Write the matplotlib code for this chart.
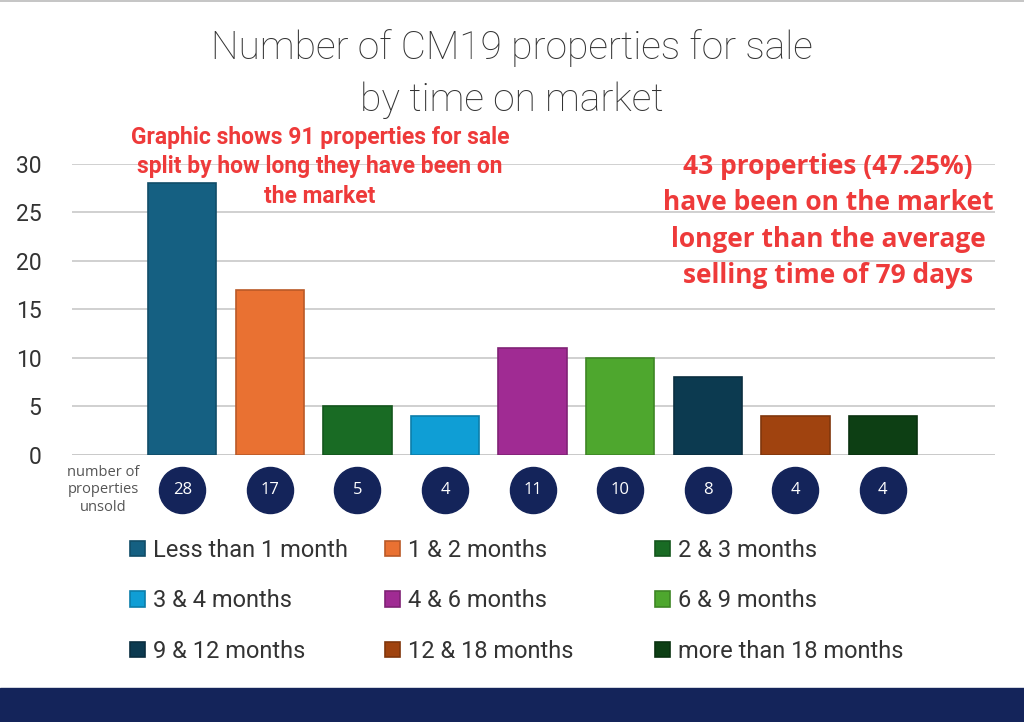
import matplotlib.pyplot as plt
from matplotlib.patches import Rectangle
from matplotlib.lines import Line2D

categories = ["Less than 1 month", "1 & 2 months", "2 & 3 months",
              "3 & 4 months", "4 & 6 months", "6 & 9 months",
              "9 & 12 months", "12 & 18 months", "more than 18 months"]
counts = [28, 17, 5, 4, 11, 10, 8, 4, 4]
colors = ["#156082", "#e97132", "#196b24", "#0f9ed5", "#a02b93",
          "#4ea72e", "#0c3a50", "#a0430f", "#0d3f14"]
yticks = [0, 5, 10, 15, 20, 25, 30]

navy = "#14245a"
red = "#ee3a3a"

fig = plt.figure(figsize=(10.24, 7.22), dpi=100)
ax = fig.add_axes([0.0703, 0.3698, 0.9014, 0.4031])

x = list(range(1, len(counts) + 1))
bars = ax.bar(x, counts, width=0.78, color=colors, linewidth=1.2, zorder=3)
for b in bars:
    b.set_edgecolor(tuple(c * 0.8 for c in b.get_facecolor()[:3]))

ax.set_xlim(-0.26, 10.28)
ax.set_ylim(0, 30)
ax.set_yticks(yticks)
ax.set_xticks([])
ax.grid(axis="y", color="#d0d0d0", linewidth=1.4, zorder=0)
ax.axhline(0, color="#c8c8c8", linewidth=1.8, zorder=2)
for s in ax.spines.values():
    s.set_visible(False)
ax.tick_params(axis="y", length=0, pad=22, labelsize=16.5, labelcolor="#333333")
for lab in ax.get_yticklabels():
    lab.set_fontfamily("Roboto")

# count badges under the bars
ax.scatter(x, [-3.6] * len(x), s=1100, color=navy, clip_on=False, zorder=4)
for xi, c in zip(x, counts):
    ax.text(xi, -3.6, str(c), ha="center", va="center", color="white",
            fontsize=12, family="Open Sans", zorder=5, clip_on=False)
ax.text(0.1, -3.6, "number of\nproperties\nunsold", ha="center", va="center",
        fontsize=10.5, color="#555555", family="Open Sans", linespacing=1.2)

# title
fig.text(0.5, 1 - 48 / 722, "Number of CM19 properties for sale", ha="center",
         va="center", fontsize=28, color="#333333", family="Roboto",
         fontweight="light")
fig.text(0.5, 1 - 100 / 722, "by time on market", ha="center", va="center",
         fontsize=28, color="#333333", family="Roboto", fontweight="light")

# notes
fig.text(320 / 1024, 1 - 167 / 722,
         "Graphic shows 91 properties for sale\nsplit by how long they have been on\nthe market",
         ha="center", va="center", fontsize=16.5, color=red, family="Roboto",
         fontweight="bold", linespacing=1.38)
fig.text(828 / 1024, 1 - 221 / 722,
         "43 properties (47.25%)\nhave been on the market\nlonger than the average\nselling time of 79 days",
         ha="center", va="center", fontsize=19, color=red, family="Open Sans",
         fontweight="bold", linespacing=1.45)

# legend, three columns
col_x = [130 / 1024, 385 / 1024, 655 / 1024]
for i in range(3):
    hs = [bars[j] for j in range(i, len(bars), 3)]
    ls = [categories[j] for j in range(i, len(bars), 3)]
    fig.legend(hs, ls, loc="upper left", bbox_to_anchor=(col_x[i], 1 - 539 / 722),
               frameon=False, handlelength=0.62, handleheight=0.62,
               handletextpad=0.35, labelspacing=1.16, borderaxespad=0,
               borderpad=0, labelcolor="#333333",
               prop={"family": "Roboto", "size": 17})

# bottom band and top edge line
fig.patches.append(Rectangle((0, 0), 1, 34 / 722, transform=fig.transFigure,
                             color=navy, zorder=0))
fig.lines.append(Line2D([0, 1], [0.999, 0.999], transform=fig.transFigure,
                        color="#bbbbbb", linewidth=1.2))

fig.savefig("out.png", dpi=100)
